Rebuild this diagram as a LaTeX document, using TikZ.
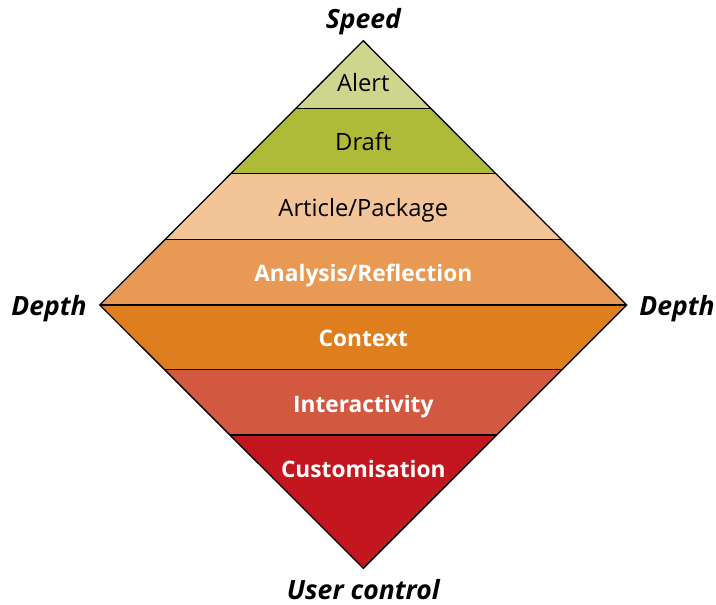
\documentclass[tikz,border=0pt]{standalone}
\usepackage{fontspec}
\setmainfont{Open Sans}
\definecolor{cAlert}{HTML}{CED68E}
\definecolor{cDraft}{HTML}{AEBB38}
\definecolor{cArticle}{HTML}{F3C497}
\definecolor{cAnalysis}{HTML}{E89A54}
\definecolor{cContext}{HTML}{DE7E1F}
\definecolor{cInter}{HTML}{D25840}
\definecolor{cCustom}{HTML}{C3161E}
\tikzset{
  bandtext/.style={anchor=base, font=\fontsize{23.8}{27}\selectfont, text=black, inner sep=0pt},
  bandbold/.style={bandtext, font=\fontsize{22.7}{26}\selectfont\bfseries, text=white},
  axislabel/.style={anchor=base, font=\fontsize{26.5}{30}\selectfont\bfseries\itshape, inner sep=0pt},
  bandline/.style={draw=black, line width=1.3pt},
}
\begin{document}
\begin{tikzpicture}[x=1pt,y=-1pt]
\useasboundingbox (0,0) rectangle (716,605);
\coordinate (T) at (363.3,40.7);
\coordinate (L) at (99.8,305);
\coordinate (R) at (626.8,305);
\coordinate (B) at (363.3,568.3);
\begin{scope}
  \clip (T) -- (R) -- (B) -- (L) -- cycle;
  \fill[cAlert] (90,30) rectangle (640,108.3);
  \fill[cDraft] (90,108.3) rectangle (640,173.3);
  \fill[cArticle] (90,173.3) rectangle (640,239.3);
  \fill[cAnalysis] (90,239.3) rectangle (640,305);
  \fill[cContext] (90,305) rectangle (640,369.3);
  \fill[cInter] (90,369.3) rectangle (640,435);
  \fill[cCustom] (90,435) rectangle (640,580);
  \foreach \y in {108.3,173.3,239.3,305,369.3,435}
    \draw[bandline] (90,\y) -- (640,\y);
\end{scope}
\draw[bandline, line join=miter] (T) -- (R) -- (B) -- (L) -- cycle;
\node[bandtext] (alert) at (363.3,91.5) {Alert};
\node[bandtext] (draft) at (363.3,150.5) {Draft};
\node[bandtext] (article) at (363.3,216.7) {Article/Package};
\node[bandbold] (analysis) at (363.3,281.7) {Analysis/Reflection};
\node[bandbold] (context) at (363.3,346.7) {Context};
\node[bandbold] (inter) at (363.3,412.3) {Interactivity};
\node[bandbold] (custom) at (363.3,477.5) {Customisation};
\node[axislabel] (speed) at (363.3,28) {Speed};
\node[axislabel] (depthl) at (49,315) {Depth};
\node[axislabel] (depthr) at (677,315) {Depth};
\node[axislabel] (user) at (363.3,599) {User control};
\end{tikzpicture}
\end{document}
